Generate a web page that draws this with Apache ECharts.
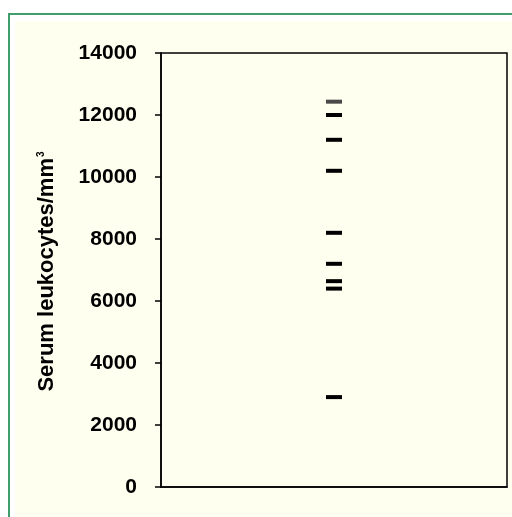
<!DOCTYPE html>
<html>
<head>
<meta charset="utf-8">
<script src="https://cdn.jsdelivr.net/npm/echarts@6/dist/echarts.min.js"></script>
<style>
  html, body { margin: 0; padding: 0; background: #ffffff; }
  #frame {
    position: absolute; left: 8px; top: 13px; width: 520px; height: 520px;
    border-left: 2px solid #3f9e6c; border-top: 2px solid #3f9e6c;
    background: #ffffff;
  }
  #cream {
    position: absolute; left: 15px; top: 21px; width: 520px; height: 520px;
    background: #fffff0;
  }
  #chart { position: absolute; left: 0; top: 0; width: 512px; height: 517px; }
</style>
</head>
<body>
<div id="frame"></div>
<div id="cream"></div>
<div id="chart"></div>
<script>
// one group, each dash is a patient value
var categories = ["Leukocytes"];
var values = [12430, 12000, 11200, 10200, 8200, 7200, 6640, 6400, 2900];
var yTicks = [0, 2000, 4000, 6000, 8000, 10000, 12000, 14000];

var chart = echarts.init(document.getElementById("chart"));

var points = values.map(function (v, i) {
  var p = { value: [categories[0], v] };
  if (i === 0) {
    p.itemStyle = { color: "#4a4a4a" }; // top dash looks lighter
  }
  return p;
});

chart.setOption({
  backgroundColor: "transparent",
  animation: false,
  grid: {
    left: 161,
    right: 5,
    top: 53,
    bottom: 30,
    show: true,
    borderColor: "#000",
    borderWidth: 1.5,
    backgroundColor: "transparent"
  },
  xAxis: {
    type: "category",
    data: categories,
    axisLine: { show: true, lineStyle: { color: "#000", width: 1.5 } },
    axisTick: { show: false },
    axisLabel: { show: false },
    splitLine: { show: false }
  },
  yAxis: {
    type: "value",
    min: yTicks[0],
    max: yTicks[yTicks.length - 1],
    interval: 2000,
    name: "Serum leukocytes/mm{sup|3}",
    nameLocation: "middle",
    nameGap: 103,
    nameTextStyle: {
      color: "#000",
      fontFamily: "Liberation Sans, Arial, sans-serif",
      fontWeight: "bold",
      fontSize: 22,
      padding: [0, 3, 0, 0],
      rich: {
        sup: {
          color: "#000",
          fontFamily: "Liberation Sans, Arial, sans-serif",
          fontWeight: "bold",
          fontSize: 10,
          verticalAlign: "top",
          padding: [0, 0, 12, 1]
        }
      }
    },
    axisLine: { show: true, lineStyle: { color: "#000", width: 1.5 } },
    axisTick: { show: true, length: 6, lineStyle: { color: "#000", width: 1.5 } },
    axisLabel: {
      margin: 24,
      color: "#000",
      fontFamily: "Liberation Sans, Arial, sans-serif",
      fontWeight: "bold",
      fontSize: 21,
      formatter: function (v) { return String(v); }
    },
    splitLine: { show: false }
  },
  series: [
    {
      type: "scatter",
      symbol: "rect",
      symbolSize: [16, 4],
      itemStyle: { color: "#000", opacity: 1 },
      data: points
    }
  ]
});
</script>
</body>
</html>
